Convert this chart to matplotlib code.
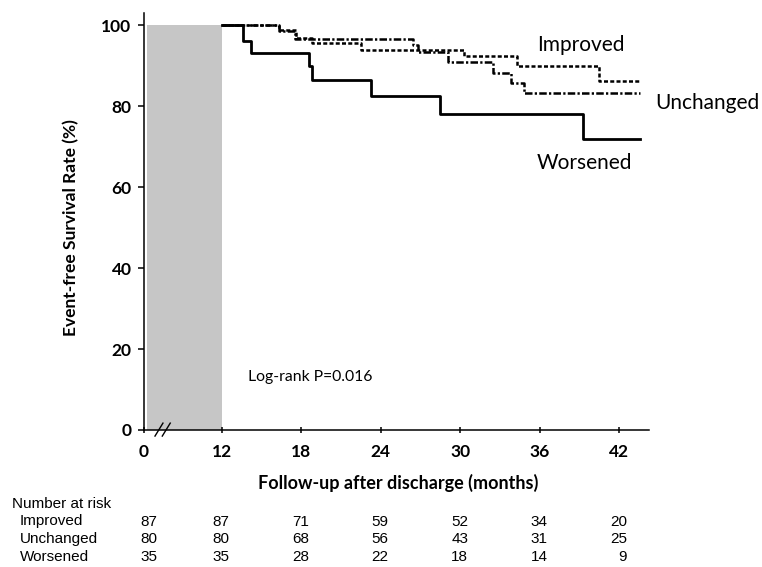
import matplotlib
matplotlib.use('Agg')
import matplotlib.pyplot as plt
from matplotlib import transforms

# ---------------- data ----------------
improved_t = [12, 16.3, 17.6, 18.8, 22.5, 30.3, 34.3, 40.5, 43.6]
improved_s = [100, 98.8, 96.8, 95.6, 93.8, 92.3, 90.0, 86.1, 86.1]

unchanged_t = [12, 16.3, 17.5, 26.45, 26.8, 29.1, 32.5, 33.8, 34.8, 43.6]
unchanged_s = [100, 98.6, 96.7, 95.0, 93.3, 90.9, 88.3, 85.8, 83.2, 83.2]

worsened_t = [12, 13.6, 14.2, 18.6, 18.8, 23.25, 28.45, 39.3, 43.6]
worsened_s = [100, 96.0, 93.2, 89.8, 86.5, 82.6, 78.1, 71.8, 71.8]

x_zero = 6.14            # position of the broken-axis "0"
x_ticks = [x_zero, 12, 18, 24, 30, 36, 42]
x_ticklabels = ['0', '12', '18', '24', '30', '36', '42']
y_ticks = [0, 20, 40, 60, 80, 100]

groups = ['Improved', 'Unchanged', 'Worsened']
at_risk = {
    'Improved':  [87, 87, 71, 59, 52, 34, 20],
    'Unchanged': [80, 80, 68, 56, 43, 31, 25],
    'Worsened':  [35, 35, 28, 22, 18, 14, 9],
}

# ---------------- figure ----------------
main_font = 'Lato'
table_font = ['Liberation Sans Narrow', 'Liberation Sans']

fig = plt.figure(figsize=(7.62, 5.67), dpi=100)
ax = fig.add_axes([144/762, 1-430/567, 505/762, 417/567])
ax.set_xlim(x_zero, 44.25)
ax.set_ylim(0, 103)

# grey landmark region
ax.fill_between([x_zero + 0.2, 12], 0, 100, color='#c6c6c6', linewidth=0, zorder=1)

ax.step(improved_t, improved_s, where='post', color='black', lw=1.8,
        linestyle=(0, (1.6, 0.9)), zorder=3)
ax.step(unchanged_t, unchanged_s, where='post', color='black', lw=1.8,
        linestyle=(0, (3.0, 0.9, 0.9, 0.9)), zorder=3)
ax.step(worsened_t, worsened_s, where='post', color='black', lw=2.0,
        linestyle='-', zorder=4)

# axes styling
for s in ['top', 'right']:
    ax.spines[s].set_visible(False)
for s in ['left', 'bottom']:
    ax.spines[s].set_linewidth(1.1)

ax.set_yticks(y_ticks)
ax.set_yticklabels([str(v) for v in y_ticks], fontfamily=main_font,
                   fontweight='bold', fontsize=12.5)
ax.tick_params(axis='y', direction='out', length=4, width=1.1, pad=5)
ax.set_xticks(x_ticks)
ax.set_xticklabels(x_ticklabels, fontfamily=main_font, fontweight='bold', fontsize=12.5)
ax.tick_params(axis='x', direction='inout', length=4, width=1.1, pad=8)

# axis break mark
for dx in (0.0, 0.55):
    ax.plot([x_zero + 0.83 + dx, x_zero + 1.43 + dx], [-1.5, 1.7], color='black',
            lw=1.0, clip_on=False, zorder=5)

# curve labels
ax.text(39.12, 95.1, 'Improved', fontfamily=main_font, fontsize=15,
        ha='center', va='center')
ax.text(48.63, 80.7, 'Unchanged', fontfamily=main_font, fontsize=15,
        ha='center', va='center', clip_on=False)
ax.text(39.4, 65.9, 'Worsened', fontfamily=main_font, fontsize=15,
        ha='center', va='center')
ax.text(13.99, 13.1, 'Log-rank P=0.016', fontfamily=main_font, fontsize=11.3,
        ha='left', va='center')

# axis titles
fig.text(71/762, 1-228/567, 'Event-free Survival Rate (%)', rotation=90,
         fontfamily=main_font, fontweight='bold', fontsize=12.5,
         ha='center', va='center')
fig.text(398/762, 1-483/567, 'Follow-up after discharge (months)',
         fontfamily=main_font, fontweight='bold', fontsize=13,
         ha='center', va='center')

# number at risk table
fig.text(12/762, 1-504/567, 'Number at risk', fontfamily=table_font, fontsize=11,
         ha='left', va='center')
row_y = [521.5, 539, 557]
col_offsets = [13, 8, 8, 8, 8, 8, 8]
blend = transforms.blended_transform_factory(ax.transData, fig.transFigure)
for g, py in zip(groups, row_y):
    fig.text(20/762, 1-py/567, g, fontfamily=table_font, fontsize=11,
             ha='left', va='center')
    for xv, n, off in zip(x_ticks, at_risk[g], col_offsets):
        tr = transforms.offset_copy(blend, fig=fig, x=off, y=0, units='dots')
        fig.text(xv, 1-py/567, str(n), transform=tr, fontfamily=table_font,
                 fontsize=11, ha='right', va='center')

fig.savefig('out.png', dpi=100)
